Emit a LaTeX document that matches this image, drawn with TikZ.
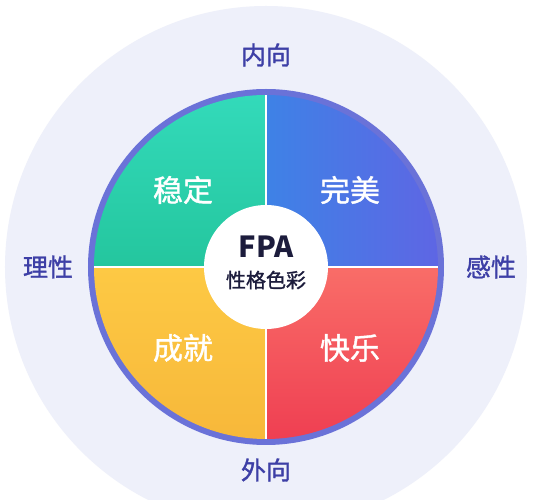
\documentclass[tikz,border=0pt]{standalone}
\usepackage{fontspec}
\usepackage{xcolor}
\newfontfamily\cjk{Noto Sans CJK SC}
\newfontfamily\cjkmid{Noto Sans CJK SC}[FakeBold=1.3]
\definecolor{halobg}{HTML}{EEF0FA}
\definecolor{ringblue}{HTML}{6A72D8}
\definecolor{axisindigo}{HTML}{3D3FA6}
\definecolor{greenA}{HTML}{33DABA}
\definecolor{greenB}{HTML}{24C69E}
\definecolor{blueA}{HTML}{3E82E6}
\definecolor{blueB}{HTML}{5E66E4}
\definecolor{yellowA}{HTML}{FDC944}
\definecolor{yellowB}{HTML}{F7B83A}
\definecolor{redA}{HTML}{F96D68}
\definecolor{redB}{HTML}{EF3F52}
\definecolor{navytext}{HTML}{1C1C3C}

\begin{document}
\begin{tikzpicture}[x=1pt, y=1pt,
  axislabel/.style={text=axisindigo, font=\cjkmid\fontsize{25}{25}\selectfont},
  quadlabel/.style={text=white, font=\cjkmid\fontsize{30}{30}\selectfont}]
  \useasboundingbox[fill=white] (-266,-233) rectangle (267,267);
  \fill[halobg] (0,0) circle (261);
  \fill[ringblue] (0,0) circle (178);
  % four quadrants
  \shade[top color=greenA, bottom color=greenB] (0,0) -- (-172,0) arc[start angle=180, end angle=90, radius=172] -- cycle;
  \shade[left color=blueA, right color=blueB] (0,0) -- (0,172) arc[start angle=90, end angle=0, radius=172] -- cycle;
  \shade[top color=yellowA, bottom color=yellowB] (0,0) -- (0,-172) arc[start angle=270, end angle=180, radius=172] -- cycle;
  \shade[top color=redA, bottom color=redB] (0,0) -- (172,0) arc[start angle=0, end angle=-90, radius=172] -- cycle;
  \draw[white, line width=2.5pt] (-172,0) -- (172,0);
  \draw[white, line width=2.5pt] (0,-172) -- (0,172);
  \fill[white] (0,0) circle (62);
  \node (fpa) at (0,20) {\cjk\bfseries\fontsize{29}{29}\selectfont\color{navytext}FPA};
  \node (sub) at (0,-13) {\cjkmid\fontsize{20}{20}\selectfont\color{navytext}性格色彩};
  \node[quadlabel] (stable) at (-83,77) {稳定};
  \node[quadlabel] (perfect) at (84,77) {完美};
  \node[quadlabel] (achieve) at (-83,-81) {成就};
  \node[quadlabel] (joy) at (84,-81) {快乐};
  \node[axislabel] (intro) at (0,212) {内向};
  \node[axislabel] (extro) at (0,-203) {外向};
  \node[axislabel] (reason) at (-218,0) {理性};
  \node[axislabel] (feel) at (225,0) {感性};
\end{tikzpicture}
\end{document}
